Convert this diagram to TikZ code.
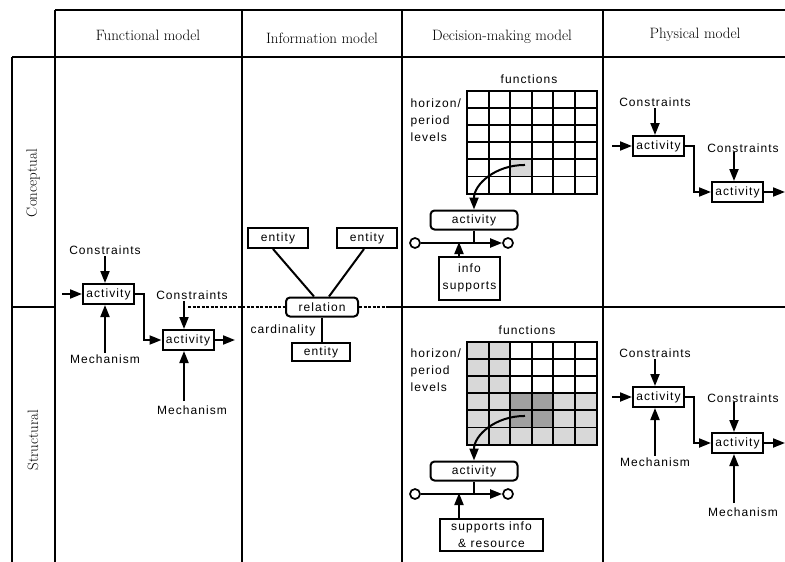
\documentclass[tikz,border=0pt]{standalone}
\usepackage{fontspec}
\newfontfamily\lblfont[LetterSpace=9]{Liberation Sans}
\newcommand\headfont{\fontsize{15}{17}\selectfont\addfontfeature{LetterSpace=4}}
\usetikzlibrary{positioning, arrows.meta}
\definecolor{lightgrid}{RGB}{216,216,216}
\definecolor{darkgrid}{RGB}{160,160,160}
\tikzset{
	tbl/.append style={line width=2.1pt},
	head/.append style={font=\headfont, inner sep=0pt},
	side/.append style={font=\headfont, inner sep=0pt, rotate=90},
	lbl/.append style={
		font={\lblfont\fontsize{12}{17}\selectfont},
		inner sep=1.5pt,
	},
	act/.append style={
		lbl, draw, line width=2pt,
		minimum width=51pt, minimum height=20pt,
	},
	ent/.append style={
		lbl, draw, line width=2pt,
		minimum width=60pt, minimum height=20pt,
	},
	rbox/.append style={
		lbl, draw, line width=2pt, rounded corners=4pt,
	},
	cell/.append style={
		draw, line width=1.9pt,
		minimum width=21.6pt, minimum height=17.1pt,
		inner sep=0pt, outer sep=0pt,
	},
	hub/.append style={
		circle, draw, line width=1.7pt, minimum size=10pt, inner sep=0pt,
	},
	flow/.append style={
		line width=2pt, -{Triangle[length=12pt,width=9pt]},
	},
	conn/.append style={line width=2pt},
	dots/.append style={line width=2pt, dash pattern=on 3pt off 1.5pt},
}

\begin{document}
\begin{tikzpicture}[x=1pt, y=-1pt]
\useasboundingbox (0,0) rectangle (785,562);

% table
\draw[tbl] (55,10) -- (785,10);
\draw[tbl] (12,57) -- (785,57);
\draw[tbl] (12,307) -- (55,307) (402,307) -- (785,307);
\draw[tbl] (12,57) -- (12,562);
\foreach \xx in {55,242,402,603} {
	\draw[tbl] (\xx,10) -- (\xx,562);
};

\node(hf)[head] at (148,35) {Functional model};
\node(hi)[head] at (322,38) {Information model};
\node(hd)[head] at (502,37) {Decision-making model};
\node(hp)[head] at (695,35) {Physical model};
\node(sc)[side] at (33,183) {Conceptual};
\node(ss)[side] at (33,440) {Structural};

% functional model
\node(fa1)[act] at (108.5,294) {activity};
\node(fa2)[act] at (188,340) {activity};
\node(fc1)[lbl] at (105,250) {Constraints};
\node(fm1)[lbl] at (105,359) {Mechanism};
\node(fc2)[lbl] at (192,295) {Constraints};
\node(fm2)[lbl] at (192,410) {Mechanism};
\coordinate(fin) at (62,294);
\coordinate(fout) at (235,340);

\draw[flow] (fin) -- (fa1);
\draw[flow] (fc1) -- (fc1 |- fa1.north);
\draw[flow] (fm1) -- (fm1 |- fa1.south);
\draw[flow] (fa1.east) -- ++(9,0) |- (fa2.west);
\draw[flow] ([xshift=-4pt]fa2.north) ++(0,-28) -- ([xshift=-4pt]fa2.north);
\draw[flow] ([xshift=-4pt]fa2.south) ++(0,50) -- ([xshift=-4pt]fa2.south);
\draw[flow] (fa2) -- (fout);

% information model
\node(e1)[ent] at (278,238) {entity};
\node(e2)[ent] at (367,238) {entity};
\node(rel)[rbox, minimum width=72pt, minimum height=19pt] at (322,307) {relation};
\node(e3)[ent, minimum width=58pt, minimum height=18pt] at (321,352) {entity};
\node(card)[lbl] at (283,330) {cardinality};
\coordinate(iend) at (402,307);

\draw[conn] ([xshift=-5pt]e1.south) -- ([xshift=-8pt]rel.north);
\draw[conn] ([xshift=-3pt]e2.south) -- ([xshift=7pt]rel.north);
\draw[conn] (rel) -- (rel |- e3.north);
\draw[dots] (rel.west -| fa2.north) -- (rel.west);
\draw[dots] (rel.east) -- ++(30,0) coordinate(ibrk);
\draw[conn] (ibrk) -- (iend);

% decision-making model, conceptual
\fill[lightgrid] (510.2,159.4) rectangle ++(21.6,17.1);
\foreach \ii in {0,...,5} {
	\foreach \jj in {0,...,5} {
		\node(a\ii\jj)[cell] at (477.8+\jj*21.6, 99.55+\ii*17.1) {};
	};
};
\node(fn1)[lbl] at (529,79) {functions};
\node(hz1)[lbl, align=left, anchor=west] at (409,120) {horizon/\\period\\levels};
\node(da1)[rbox, minimum width=87pt, minimum height=19pt] at (474,220) {activity};
\node(dl1)[hub] at (415,243) {};
\node(dr1)[hub] at (508,243) {};
\node(ds1)[lbl, draw, line width=2pt, align=center, minimum width=61pt, minimum height=43pt] at (469.5,278) {info\\supports};

\draw[flow] ([shift={(4,-3)}]a42.center) .. controls +(-30,0) and +(0,-25) .. (da1.north);
\draw[conn] (da1) -- (da1 |- dl1);
\draw[flow] (dl1) -- (dr1);
\draw[flow] ([xshift=-10.5pt]ds1.north) -- ++(0,-13.5);

% decision-making model, structural
\fill[lightgrid] (467,342) rectangle ++(43.2,102.6);
\fill[lightgrid] (467,393.3) rectangle ++(129.6,51.3);
\fill[darkgrid] (510.2,393.3) rectangle ++(43.2,34.2);
\foreach \ii in {0,...,5} {
	\foreach \jj in {0,...,5} {
		\node(b\ii\jj)[cell] at (477.8+\jj*21.6, 350.55+\ii*17.1) {};
	};
};
\node(fn2)[lbl] at (527,330) {functions};
\node(hz2)[lbl, align=left, anchor=west] at (409,370) {horizon/\\period\\levels};
\node(da2)[rbox, minimum width=87pt, minimum height=19pt] at (474,471) {activity};
\node(dl2)[hub] at (415,494) {};
\node(dr2)[hub] at (508,494) {};
\node(ds2)[lbl, draw, line width=2pt, align=center, minimum width=103pt, minimum height=32pt] at (491.5,535) {supports info\\\& resource};

\draw[flow] ([shift={(4,-3)}]b42.center) .. controls +(-30,0) and +(0,-25) .. (da2.north);
\draw[conn] (da2) -- (da2 |- dl2);
\draw[flow] (dl2) -- (dr2);
\draw[flow] ([xshift=-32.5pt]ds2.north) -- ++(0,-25);

% physical model, conceptual
\node(pa1)[act] at (658.5,146) {activity};
\node(pa2)[act] at (737.5,192) {activity};
\node(pc1)[lbl] at (655,102) {Constraints};
\node(pc2)[lbl] at (743,148) {Constraints};
\coordinate(pin1) at (612,146);
\coordinate(pout1) at (785,192);

\draw[flow] (pin1) -- (pa1);
\draw[flow] (pc1) -- (pc1 |- pa1.north);
\draw[flow] (pa1.east) -- ++(9,0) |- (pa2.west);
\draw[flow] ([xshift=-3.5pt]pa2.north) ++(0,-29) -- ([xshift=-3.5pt]pa2.north);
\draw[flow] (pa2) -- (pout1);

% physical model, structural
\node(pa3)[act] at (658.5,397) {activity};
\node(pa4)[act] at (737.5,443) {activity};
\node(pc3)[lbl] at (655,353) {Constraints};
\node(pm3)[lbl] at (655,462) {Mechanism};
\node(pc4)[lbl] at (743,398) {Constraints};
\node(pm4)[lbl] at (743,512) {Mechanism};
\coordinate(pin2) at (612,397);
\coordinate(pout2) at (785,443);

\draw[flow] (pin2) -- (pa3);
\draw[flow] (pc3) -- (pc3 |- pa3.north);
\draw[flow] (pm3) -- (pm3 |- pa3.south);
\draw[flow] (pa3.east) -- ++(9,0) |- (pa4.west);
\draw[flow] ([xshift=-3.5pt]pa4.north) ++(0,-30) -- ([xshift=-3.5pt]pa4.north);
\draw[flow] ([xshift=-3.5pt]pa4.south) ++(0,49) -- ([xshift=-3.5pt]pa4.south);
\draw[flow] (pa4) -- (pout2);
\end{tikzpicture}
\end{document}
